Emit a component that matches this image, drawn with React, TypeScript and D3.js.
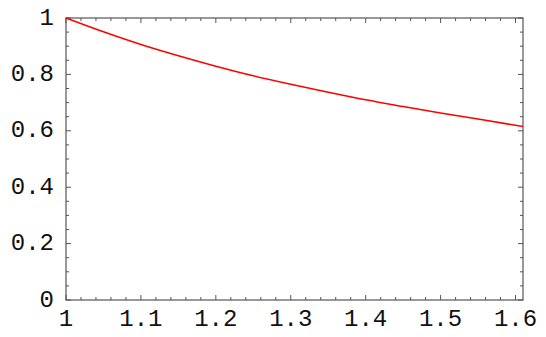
import React from "react";
import * as d3 from "d3";

// curve
const xValues = [1, 1.05, 1.1, 1.15, 1.2, 1.25, 1.3, 1.35, 1.4, 1.45, 1.5, 1.55, 1.61];
const yValues = [1, 0.951, 0.906, 0.866, 0.829, 0.795, 0.765, 0.737, 0.71, 0.686, 0.663, 0.642, 0.615];

const xTickLabels = ["1", "1.1", "1.2", "1.3", "1.4", "1.5", "1.6"];
const yTickLabels = ["0", "0.2", "0.4", "0.6", "0.8", "1"];

export default function App() {
  const width = 546;
  const height = 337;
  const left = 66, right = 523, top = 18, bottom = 300;

  const xScale = d3.scaleLinear().domain([1, 1.61]).range([left, right]);
  const yScale = d3.scaleLinear().domain([0, 1]).range([bottom, top]);

  const points = xValues.map((x, i) => [x, yValues[i]] as [number, number]);
  const line = d3.line<[number, number]>()
    .x(d => xScale(d[0]))
    .y(d => yScale(d[1]))
    .curve(d3.curveMonotoneX);

  const xMinor = d3.range(0, 31).map(i => 1 + i * 0.02).filter(v => v <= 1.61);
  const yMinor = d3.range(0, 21).map(i => i * 0.05);
  const frame = "#555";
  const font = "'Liberation Mono', 'DejaVu Sans Mono', monospace";

  return (
    <svg width={width} height={height} style={{position: "absolute", left: 0, top: 0, background: "white"}}>
      {/* ticks on all four sides, pointing in */}
      {xMinor.map((v, i) => {
        const major = i % 5 === 0;
        const len = major ? 5 : 3;
        return <g key={"xt" + i}>
          <line x1={xScale(v)} x2={xScale(v)} y1={bottom} y2={bottom - len} stroke={frame} strokeWidth={1}/>
          <line x1={xScale(v)} x2={xScale(v)} y1={top} y2={top + len} stroke={frame} strokeWidth={1}/>
        </g>
      })}
      {yMinor.map((v, i) => {
        const major = i % 4 === 0;
        const len = major ? 5 : 3;
        return <g key={"yt" + i}>
          <line x1={left} x2={left + len} y1={yScale(v)} y2={yScale(v)} stroke={frame} strokeWidth={1}/>
          <line x1={right} x2={right - len} y1={yScale(v)} y2={yScale(v)} stroke={frame} strokeWidth={1}/>
        </g>
      })}
      <rect x={left} y={top} width={right - left} height={bottom - top} fill="none" stroke={frame} strokeWidth={1.2}/>
      <path d={line(points) || ""} fill="none" stroke="#ff0000" strokeWidth={1.5}/>
      {xTickLabels.map(t => (
        <text key={"xl" + t} x={xScale(+t)} y={bottom + 26} textAnchor="middle"
              style={{fontFamily: font, fontSize: "24px", fill: "#111"}}>{t}</text>
      ))}
      {yTickLabels.map(t => (
        <text key={"yl" + t} x={54} y={yScale(+t)} textAnchor="end" dominantBaseline="central"
              style={{fontFamily: font, fontSize: "24px", fill: "#111"}}>{t}</text>
      ))}
    </svg>
  );
}
